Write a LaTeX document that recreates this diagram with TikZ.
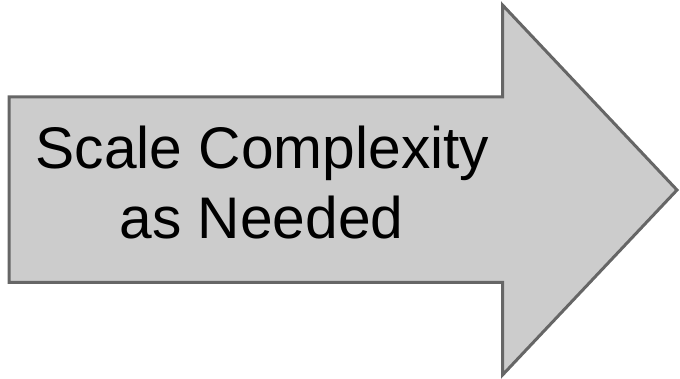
\documentclass[tikz,border=0pt]{standalone}
\usepackage{fontspec}
\setmainfont{Liberation Sans}
\definecolor{arrowfill}{HTML}{CCCCCC}
\definecolor{arrowline}{HTML}{666666}
\tikzset{
  bigarrow/.style={draw=arrowline, fill=arrowfill, line width=3pt, line join=miter},
  label/.style={inner sep=0pt, font=\fontsize{58.7}{67}\selectfont, text=black, anchor=base}
}
\begin{document}
\begin{tikzpicture}[x=1pt, y=-1pt]
\useasboundingbox (0,0) rectangle (680,379);
\draw[bigarrow] (9,97) -- (502.5,97) -- (502.5,5) -- (677,190) -- (502.5,375) -- (502.5,282.5) -- (9,282.5) -- cycle;
\node[label] (l1) at (262.5,169) {Scale Complexity};
\node[label] (l2) at (261.5,239) {as Needed};
\end{tikzpicture}
\end{document}
